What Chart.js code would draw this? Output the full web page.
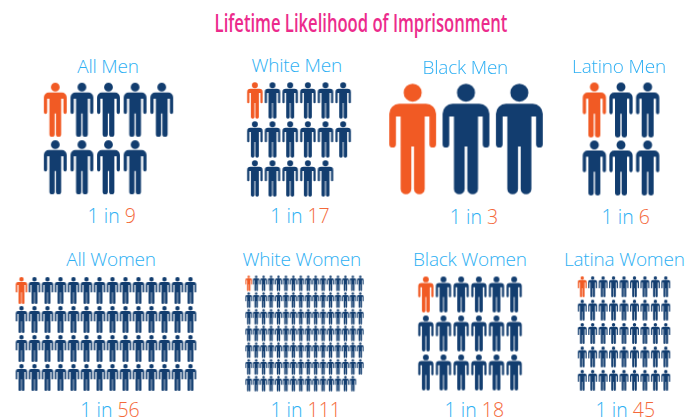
<!DOCTYPE html>
<html><head><meta charset="utf-8">
<script src="https://cdn.jsdelivr.net/npm/chart.js@4"></script>
<style>
html,body{margin:0;padding:0;background:#fff;width:699px;height:419px;overflow:hidden}
#stage{position:relative;width:699px;height:419px}
#stage canvas{position:absolute}
.t{position:absolute;white-space:nowrap;transform:translateX(-50%);line-height:30px;height:30px;font-family:"Open Sans",sans-serif;font-weight:300;color:#2dafF3}
.lab{font-size:19px;letter-spacing:-.2px}
.odd{font-size:19.5px;word-spacing:0;margin-top:1px}
.odd b{font-weight:300;color:#f4693a}
#title{font-family:"Open Sans",sans-serif;font-size:25px;color:#ec2b8c;font-weight:600;transform:translateX(-50%) scaleX(.665)}
</style></head><body><div id="stage"></div>
<script>
const chartTitle = "Lifetime Likelihood of Imprisonment";
const categories = ["All Men","White Men","Black Men","Latino Men","All Women","White Women","Black Women","Latina Women"];
const oneIn = [9,17,3,6,56,111,18,45];
const perRow = [5,6,3,3,14,16,6,9];

// layout only: plot box, icon height, label anchors
const boxes = [
 {l:42,t:81,w:133,h:115,icon:54,lx:108,ly:72.5,ox:111.7,oy:222},
 {l:246,t:81,w:106,h:117,icon:36.5,lx:296.7,ly:71.5,ox:300,oy:222},
 {l:386,t:79,w:160,h:120,icon:110.7,lx:465.3,ly:73.5,ox:474,oy:223},
 {l:581,t:81,w:80,h:116,icon:55,lx:619,ly:73,ox:625.7,oy:223},
 {l:15,t:276,w:182,h:116,icon:27,lx:111,ly:266,ox:110,oy:416},
 {l:245,t:275,w:119,h:117,icon:15.5,lx:301.7,ly:266,ox:305.7,oy:416},
 {l:417,t:275,w:106,h:117,icon:36,lx:470,ly:266,ox:474.3,oy:416},
 {l:577,t:275,w:94,h:117,icon:21,lx:624.3,ly:266,ox:625.3,oy:416}
];
const NAVY="#123d6f", ORANGE="#f15a24";
const BASE=22; // text baseline offset within its 30px line box

function person(height,color){
  const ratio=140/331, pad=2;
  const w=height*ratio;
  const c=document.createElement('canvas');
  c.width=Math.ceil(w)+pad*2; c.height=Math.ceil(height)+pad*2;
  const x=c.getContext('2d');
  x.filter='blur('+(height<20?0.5:height<30?0.4:0.3)+'px)';
  x.translate((c.width-w)/2,(c.height-height)/2);
  x.scale(height/331,height/331);
  x.fillStyle=color;
  x.beginPath();
  x.arc(70,27,27,0,Math.PI*2);
  x.moveTo(0,90);
  x.arcTo(0,60,30,60,30);
  x.lineTo(110,60);
  x.arcTo(140,60,140,90,30);
  x.lineTo(140,181);
  x.arc(130,181,10,0,Math.PI);
  x.lineTo(120,98);x.lineTo(106,98);
  x.lineTo(106,315);
  x.arc(90,315,16,0,Math.PI);
  x.lineTo(74,188);x.lineTo(66,188);
  x.lineTo(66,315);
  x.arc(50,315,16,0,Math.PI);
  x.lineTo(34,98);x.lineTo(20,98);
  x.lineTo(20,181);
  x.arc(10,181,10,0,Math.PI);
  x.closePath();
  x.fill();
  return c;
}

const stage=document.getElementById('stage');
function text(cls,cx,base,html,id){
  const d=document.createElement('div');
  d.className='t '+cls; if(id)d.id=id;
  d.style.left=cx+'px'; d.style.top=(base-BASE)+'px';
  d.innerHTML=html; stage.appendChild(d);
}
text('',361,29,chartTitle,'title');

categories.forEach((name,k)=>{
  const b=boxes[k], n=oneIn[k], cols=perRow[k];
  const rows=Math.ceil(n/cols);
  const pts=[];
  for(let i=0;i<n;i++) pts.push({x:i%cols,y:Math.floor(i/cols)});
  const cv=document.createElement('canvas');
  cv.width=b.w; cv.height=b.h;
  cv.style.left=b.l+'px'; cv.style.top=b.t+'px';
  stage.appendChild(cv);
  new Chart(cv,{
    type:'scatter',
    data:{datasets:[
      {label:name+' (imprisoned)',data:pts.slice(0,1),pointStyle:person(b.icon,ORANGE),pointRadius:5,clip:false},
      {label:name,data:pts.slice(1),pointStyle:person(b.icon,NAVY),pointRadius:5,clip:false}
    ]},
    options:{
      responsive:false,animation:false,events:[],
      layout:{padding:0,autoPadding:false},
      plugins:{legend:{display:false},tooltip:{enabled:false},title:{display:false}},
      scales:{
        x:{type:'linear',display:false,min:-0.5,max:cols-0.5},
        y:{type:'linear',display:false,reverse:true,min:-0.5,max:rows-0.5}
      }
    }
  });
  text('lab',b.lx,b.ly,name);
  text('odd',b.ox,b.oy,'1 in <b>'+n+'</b>');
});
</script></body></html>
